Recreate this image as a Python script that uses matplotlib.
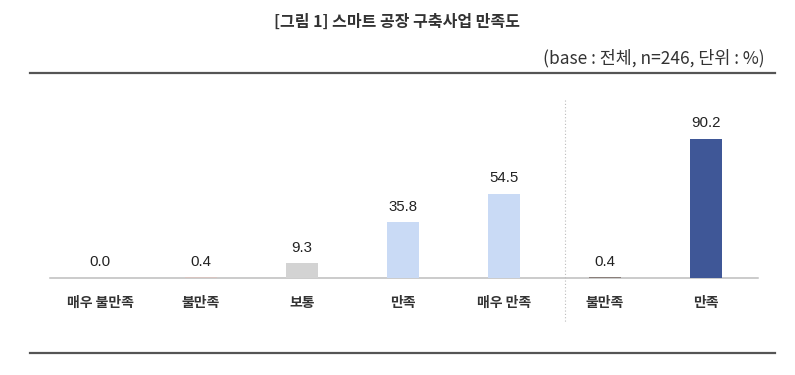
import matplotlib
matplotlib.use("Agg")
import matplotlib.pyplot as plt
from matplotlib.lines import Line2D

plt.rcParams['font.family'] = ['Noto Sans CJK KR', 'DejaVu Sans']

categories = ['매우 불만족', '불만족', '보통', '만족', '매우 만족', '불만족', '만족']
values = [0.0, 0.4, 9.3, 35.8, 54.5, 0.4, 90.2]
value_labels = ['0.0', '0.4', '9.3', '35.8', '54.5', '0.4', '90.2']
colors = ['#d9c8c8', '#d8c4c0', '#d3d3d3', '#c9daf5', '#c9daf5', '#8a7f7a', '#3f5797']
title = '[그림 1] 스마트 공장 구축사업 만족도'
subtitle = '(base : 전체, n=246, 단위 : %)'

W, H = 795, 375
fig = plt.figure(figsize=(W / 100, H / 100), dpi=100)

ax_left, ax_right = 50, 758
base_y = 277.5
ppu = 1.54
ymax = 100
ax_h = ymax * ppu
ax = fig.add_axes([ax_left / W, (H - base_y) / H, (ax_right - ax_left) / W, ax_h / H])

x = list(range(len(categories)))
ax.bar(x, values, width=0.32, color=colors, zorder=2)
x0 = -(100 - ax_left) / 101
x1 = x0 + (ax_right - ax_left) / 101
ax.set_xlim(x0, x1)
ax.set_ylim(0, ymax)
ax.axis('off')
ax.plot([x0, x1], [0, 0], color='#bdbdbd', lw=1.1, zorder=1, clip_on=False)

for xi, v, lab in zip(x, values, value_labels):
    ax.annotate(lab, (xi, v), xytext=(0, 6), textcoords='offset points',
                ha='center', va='bottom', fontsize=10.8, color='#222222',
                family=['Liberation Sans', 'DejaVu Sans'],
                annotation_clip=False)
    ax.annotate(categories[xi], (xi, 0), xytext=(0, -18), textcoords='offset points',
                ha='center', va='center', fontsize=10, fontweight='bold',
                color='#333333', annotation_clip=False)

fig.add_artist(Line2D([565 / W, 565 / W], [1 - 100 / H, 1 - 322 / H],
                      color='#bbbbbb', lw=0.8, ls=(0, (1, 2))))

fig.text(397 / W, 1 - 22 / H, title, ha='center', va='center', fontsize=11.5,
         fontweight='bold', color='#333333')
fig.text(765 / W, 1 - 58 / H, subtitle, ha='right', va='center', fontsize=12.5,
         color='#333333')

for yy in (72.5, 352.5):
    fig.add_artist(Line2D([30 / W, 775 / W], [1 - yy / H, 1 - yy / H],
                          color='#555555', lw=1.6))

fig.savefig('out.png', dpi=100)
